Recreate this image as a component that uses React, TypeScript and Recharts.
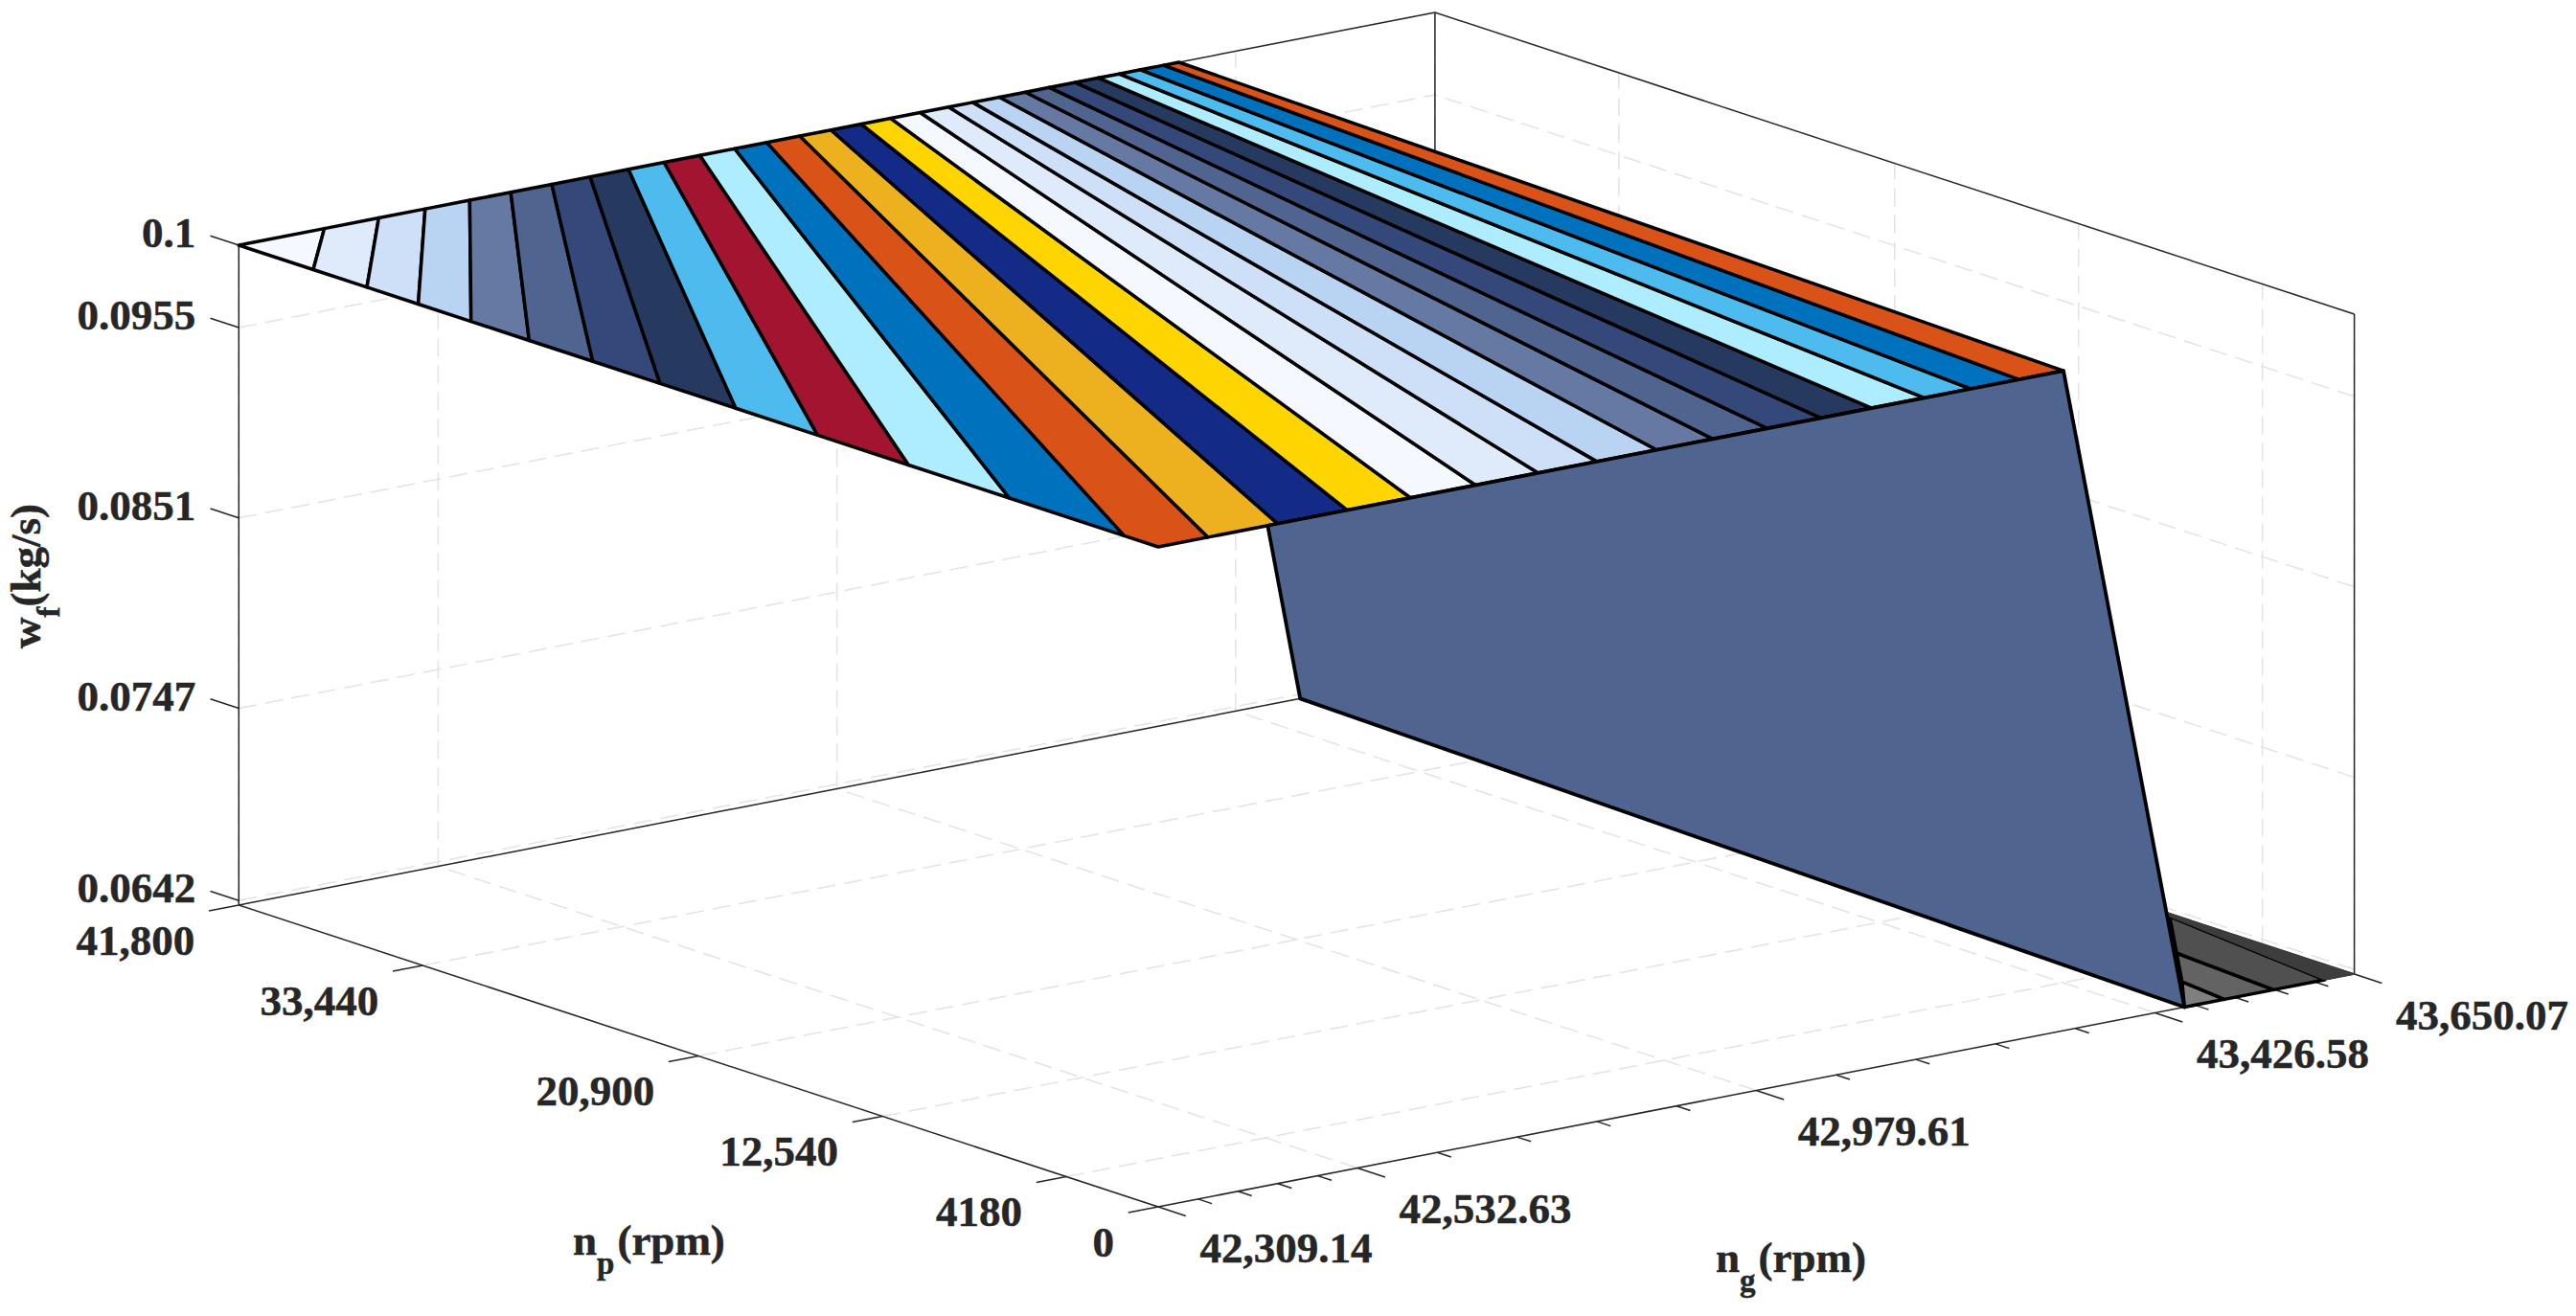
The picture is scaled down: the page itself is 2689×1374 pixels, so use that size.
import { ScatterChart, Scatter, XAxis, YAxis } from "recharts";

const W = 2689;
const H = 1374;

// axis ranges
const ngMin = 42309.14;
const ngMax = 43650.07;
const npMax = 41800;
const wfMin = 0.06395;
const wfMax = 0.1;

const ngTicks = [42309.14, 42532.63, 42979.61, 43426.58, 43650.07];
const ngTickLabels = ["42,309.14", "42,532.63", "42,979.61", "43,426.58", "43,650.07"];
const ngMinorTicks = [
  42353.84, 42398.54, 42443.23, 42487.93, 42622.02, 42711.42, 42800.82, 42890.21,
  43069.0, 43158.4, 43247.79, 43337.19, 43471.28, 43515.98, 43560.67, 43605.37,
];
const npTicks = [0, 4180, 12540, 20900, 33440, 41800];
const npTickLabels = ["0", "4180", "12,540", "20,900", "33,440", "41,800"];
const wfTicks = [0.0642, 0.0747, 0.0851, 0.0955, 0.1];
const wfTickLabels = ["0.0642", "0.0747", "0.0851", "0.0955", "0.1"];

// top plane (wf = 0.1): strip borders, read along its three edges
const ngBackEdge = [
  42405, 42466, 42518, 42568, 42614, 42660, 42703, 42746, 42786, 42826, 42865, 42901, 42938, 42973,
  43007, 43040, 43073, 43105, 43132, 43162, 43191, 43218, 43247, 43273, 43296, 43320, 43346, 43363,
];
const npLeftEdge = [38416, 35976, 33642, 31242, 28598, 25706, 22649, 19208, 15484, 11350, 6768, 1546];
const ngFrontEdge = [
  42365, 42443, 42521, 42592, 42665, 42735, 42801, 42868, 42931, 42992, 43052, 43109, 43168, 43220,
  43274, 43324,
];
const stripColors = [
  "#f5f9ff", "#dfebfb", "#cde0f8", "#b9d3f2", "#6579a3", "#4f648f", "#34497a", "#263a60",
  "#4dbbee", "#a2142f", "#aeecff", "#0072bd", "#d95319", "#edb120", "#142a87", "#ffd500",
  "#f5f9ff", "#dfebfb", "#cde0f8", "#b9d3f2", "#6579a3", "#4f648f", "#34497a", "#263a60",
  "#aeecff", "#4dbbee", "#0072bd", "#d95319",
];

// drop between the two levels
const wallNg = [42431.9, 43324, 43459.6, 43499];
const wallNp = [0, 0, 0, 41800];
const wallWf = [0.1, 0.1, wfMin, wfMin];

// low level, mostly hidden by the drop
const lowFrontNg = [43459.6, 43504.4, 43559.6, 43616.8, 43650.07];
const lowBackNg = [43459.6, 43512.4, 43570.2, 43643.4, 43650.07];
const lowBackNp = [0, 2249, 4840, 8122, 8456];
const lowColors = ["#7f7f7f", "#636363", "#505050", "#3d3d3d"];

// fixed view of the box, same as the 3d camera of the original
function project(ng: number, np: number, wf: number) {
  const u = (ng - ngMin) / (ngMax - ngMin);
  const v = np / npMax;
  const z = (wf - wfMin) / (wfMax - wfMin);
  return {
    x: 1209 + 1248.6 * u - 959.7 * v,
    y: 1260 - 243 * u - 315 * v - 689 * z,
  };
}

type P3 = [number, number, number];

const noDot = () => null;

function polygonLine(fill: string, stroke: string, strokeWidth: number) {
  return (props: any) => (
    <polygon
      points={props.points.map((p: any) => `${p.x},${p.y}`).join(" ")}
      fill={fill}
      stroke={stroke}
      strokeWidth={strokeWidth}
      strokeLinejoin="round"
    />
  );
}

function Lines(a: P3, b: P3, stroke: string, dash: string | undefined, key: string) {
  return (
    <Scatter
      key={key}
      data={[project(...a), project(...b)]}
      line={{ stroke, strokeWidth: 1.5, strokeDasharray: dash }}
      shape={noDot}
      isAnimationActive={false}
    />
  );
}

function Surface(pts: P3[], fill: string, stroke: string, strokeWidth: number, key: string) {
  return (
    <Scatter
      key={key}
      data={pts.map((p) => project(...p))}
      line={polygonLine(fill, stroke, strokeWidth)}
      shape={noDot}
      isAnimationActive={false}
    />
  );
}

function TickText(
  data: { x: number; y: number; label: string }[],
  dx: number,
  dy: number,
  anchor: "start" | "end",
  key: string,
) {
  return (
    <Scatter
      key={key}
      data={data}
      isAnimationActive={false}
      shape={(p: any) => (
        <text x={p.cx + dx} y={p.cy + dy} textAnchor={anchor} style={textStyle}>
          {p.payload.label}
        </text>
      )}
    />
  );
}

const textStyle = {
  fontFamily: "'Liberation Serif', serif",
  fontWeight: 700,
  fontSize: 45,
  fill: "#262626",
  stroke: "#262626",
  strokeWidth: 0.5,
};
const subSize = 33;
const gridColor = "#e3e3e3";
const gridDash = "19 9";
const axisColor = "#262626";

const tickNg = ngMin - 0.025 * (ngMax - ngMin);

export default function App() {
  const gridLines: any[] = [];
  ngTicks.forEach((ng, i) => {
    gridLines.push(Lines([ng, 0, wfMin], [ng, npMax, wfMin], gridColor, gridDash, `gf${i}`));
    gridLines.push(Lines([ng, npMax, wfMin], [ng, npMax, wfMax], gridColor, gridDash, `gb${i}`));
  });
  npTicks.forEach((np, i) => {
    gridLines.push(Lines([ngMin, np, wfMin], [ngMax, np, wfMin], gridColor, gridDash, `hf${i}`));
    gridLines.push(Lines([ngMax, np, wfMin], [ngMax, np, wfMax], gridColor, gridDash, `hb${i}`));
  });
  wfTicks.forEach((wf, i) => {
    gridLines.push(Lines([ngMin, npMax, wf], [ngMax, npMax, wf], gridColor, gridDash, `zb${i}`));
    gridLines.push(Lines([ngMax, 0, wf], [ngMax, npMax, wf], gridColor, gridDash, `zr${i}`));
  });

  const box: [P3, P3][] = [
    [[ngMin, npMax, wfMin], [ngMin, npMax, wfMax]],
    [[ngMax, npMax, wfMin], [ngMax, npMax, wfMax]],
    [[ngMax, 0, wfMin], [ngMax, 0, wfMax]],
    [[ngMin, npMax, wfMax], [ngMax, npMax, wfMax]],
    [[ngMax, 0, wfMax], [ngMax, npMax, wfMax]],
    [[ngMin, npMax, wfMin], [ngMax, npMax, wfMin]],
    [[ngMax, 0, wfMin], [ngMax, npMax, wfMin]],
    [[ngMin, 0, wfMin], [ngMax, 0, wfMin]],
    [[ngMin, 0, wfMin], [ngMin, npMax, wfMin]],
  ];
  const boxLines = box.map(([a, b], i) => Lines(a, b, axisColor, undefined, `box${i}`));

  const tickLines = [
    ...ngTicks.map((ng, i) =>
      Lines([ng, 0, wfMin], [ng, -0.03 * npMax, wfMin], axisColor, undefined, `tu${i}`),
    ),
    ...ngMinorTicks.map((ng, i) =>
      Lines([ng, 0, wfMin], [ng, -0.015 * npMax, wfMin], axisColor, undefined, `tm${i}`),
    ),
    ...npTicks.map((np, i) =>
      Lines([ngMin, np, wfMin], [tickNg, np, wfMin], axisColor, undefined, `tv${i}`),
    ),
    ...wfTicks.map((wf, i) =>
      Lines([ngMin, npMax, wf], [ngMin, 1.031 * npMax, wf], axisColor, undefined, `tz${i}`),
    ),
  ];

  // colored strips of the top plane
  const backPoint = (i: number): P3 => (i === 0 ? [ngMin, npMax, wfMax] : [ngBackEdge[i - 1], npMax, wfMax]);
  const nearPoint = (i: number): P3 => {
    if (i === 0) return [ngMin, npMax, wfMax];
    if (i <= npLeftEdge.length) return [ngMin, npLeftEdge[i - 1], wfMax];
    return [ngFrontEdge[i - npLeftEdge.length - 1], 0, wfMax];
  };
  const strips = stripColors.map((color, i) => {
    const pts: P3[] = [backPoint(i), backPoint(i + 1), nearPoint(i + 1)];
    if (i === npLeftEdge.length) pts.push([ngMin, 0, wfMax]);
    pts.push(nearPoint(i));
    return Surface(pts, color, "#000", 3.5, `strip${i}`);
  });

  const lowStrips = lowColors.map((color, i) =>
    Surface(
      [
        [lowBackNg[i], lowBackNp[i], wfMin],
        [lowBackNg[i + 1], lowBackNp[i + 1], wfMin],
        [lowFrontNg[i + 1], 0, wfMin],
        [lowFrontNg[i], 0, wfMin],
      ],
      color,
      i === lowColors.length - 1 ? color : "#000",
      i === lowColors.length - 1 ? 1 : 3.5,
      `low${i}`,
    ),
  );

  const wall = Surface(
    wallNg.map((ng, i): P3 => [ng, wallNp[i], wallWf[i]]),
    "#4f648f",
    "#000",
    3.8,
    "wall",
  );

  const ngText = ngTicks.map((ng, i) => ({ ...project(ng, 0, wfMin), label: ngTickLabels[i] }));
  const npText = npTicks.map((np, i) => ({ ...project(ngMin, np, wfMin), label: npTickLabels[i] }));
  const wfText = wfTicks.map((wf, i) => ({ ...project(ngMin, npMax, wf), label: wfTickLabels[i] }));

  return (
    <div style={{ position: "absolute", left: 0, top: 0, width: W, height: H, background: "#fff" }}>
      <ScatterChart width={W} height={H} margin={{ top: 0, right: 0, bottom: 0, left: 0 }}>
        <XAxis type="number" dataKey="x" domain={[0, W]} hide allowDataOverflow />
        <YAxis type="number" dataKey="y" domain={[0, H]} reversed hide allowDataOverflow />
        {gridLines}
        {boxLines}
        {tickLines}
        {lowStrips}
        {strips}
        {wall}
        {TickText(ngText, 43.5, 57.5, "start", "ngText")}
        {TickText(npText, -46, 51.5, "end", "npText")}
        {TickText(wfText, -45, 2, "end", "wfText")}
        <text x={598} y={1310} style={textStyle}>
          n
          <tspan dy={20} fontSize={subSize}>p</tspan>
          <tspan dy={-20} dx={3}>(rpm)</tspan>
        </text>
        <text x={1791} y={1328} style={textStyle}>
          n
          <tspan dy={20} fontSize={subSize}>g</tspan>
          <tspan dy={-20} dx={3}>(rpm)</tspan>
        </text>
        <text transform="translate(42 677) rotate(-90)" style={textStyle}>
          w
          <tspan dy={20} fontSize={subSize}>f</tspan>
          <tspan dy={-20}>(kg/s)</tspan>
        </text>
      </ScatterChart>
    </div>
  );
}
